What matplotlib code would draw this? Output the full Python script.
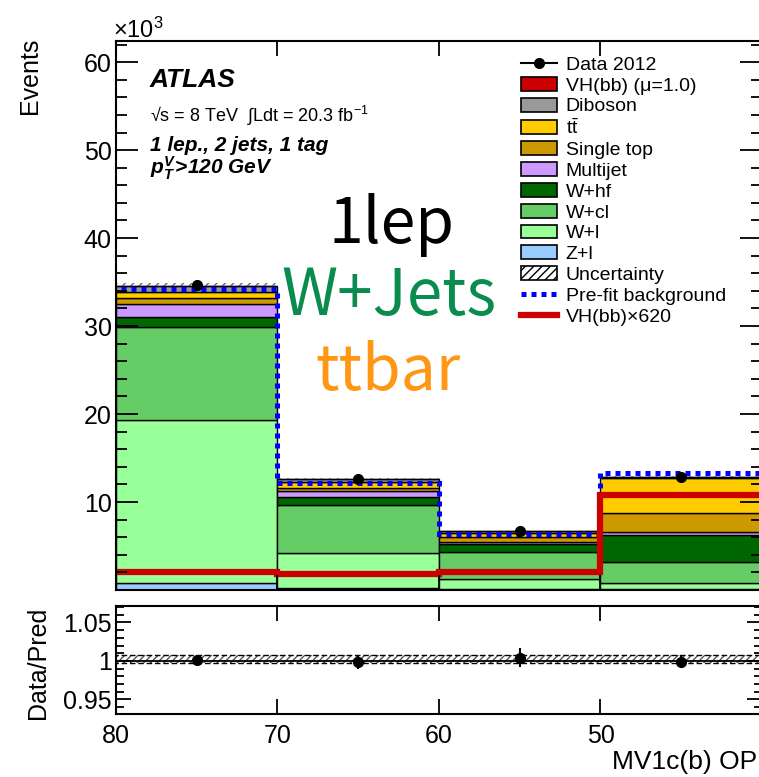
import numpy as np
import matplotlib
matplotlib.use("Agg")
import matplotlib.pyplot as plt
from matplotlib.patches import Patch
from matplotlib.lines import Line2D
from matplotlib.ticker import MultipleLocator, FixedLocator

plt.rcParams["font.family"] = ["Liberation Sans", "DejaVu Sans"]
plt.rcParams["mathtext.fontset"] = "custom"
plt.rcParams["mathtext.rm"] = "Liberation Sans"
plt.rcParams["mathtext.it"] = "Liberation Sans:italic"
plt.rcParams["mathtext.bf"] = "Liberation Sans:italic:bold"
plt.rcParams["hatch.linewidth"] = 1.0

# --- bins: MV1c(b) operating point [%], axis runs 80 -> 40 ---
edges = np.array([80, 70, 60, 50, 40])
centers = (edges[:-1] + edges[1:]) / 2

# --- post-fit yields per bin (events), stacked bottom -> top ---
z_l = [750, 200, 100, 100]
w_l = [18550, 4000, 1150, 650]
w_cl = [10600, 5500, 3050, 2450]
w_hf = [1150, 900, 900, 3100]
multijet = [1500, 600, 300, 300]
single_top = [650, 400, 500, 2150]
ttbar = [700, 700, 500, 3950]
diboson = [700, 350, 200, 150]
vh_x620 = [2050, 1800, 2100, 10750]
vh = [v / 620 for v in vh_x620]

prefit_bkg = [34250, 12150, 6350, 13300]
data_over_pred = [1.001, 0.999, 1.004, 0.999]
unc_lo = [0.9975, 0.9975, 0.9975, 0.9975]
unc_hi = [1.0078, 1.0078, 1.0078, 1.0078]

x_ticks = [80, 70, 60, 50, 40]
x_ticklabels = ["80", "70", "60", "50", ""]

components = [
    ("Z+l", z_l, "#99ccff"),
    ("W+l", w_l, "#99ff99"),
    ("W+cl", w_cl, "#66cc66"),
    ("W+hf", w_hf, "#006600"),
    ("Multijet", multijet, "#cc99ff"),
    ("Single top", single_top, "#cc9900"),
    (r"t$\bar{\mathrm{t}}$", ttbar, "#ffcc00"),
    ("Diboson", diboson, "#999999"),
    ("VH(bb) (μ=1.0)", vh, "#cc0000"),
]

total = np.sum([np.array(c[1], float) for c in components], axis=0)
data = total * np.array(data_over_pred)
ratio_err = np.sqrt(data) / total

K = 1000.0  # y axis in units of 10^3


def rev(vals):
    return np.asarray(vals, float)[::-1]


W, H = 759, 777
fig = plt.figure(figsize=(W / 100, H / 100), dpi=100)


def fx(px):
    return px / W


def fy(py):
    return 1 - py / H


ax = fig.add_axes([fx(116), fy(590), (762 - 116) / W, (590 - 41) / H])
rax = fig.add_axes([fx(116), fy(714), (762 - 116) / W, (714 - 606) / H])

# ---- main panel: stacked backgrounds ----
bottom = np.zeros(4)
for name, vals, col in components:
    v = np.array(vals, float) / K
    ax.bar(centers, v, width=10, bottom=bottom, color=col,
           edgecolor="black", linewidth=1.0)
    bottom = bottom + v

ax.stairs(rev(total * np.array(unc_hi)) / K, edges[::-1],
          baseline=rev(total * np.array(unc_lo)) / K, fill=True,
          facecolor="none", edgecolor="#666666", hatch="////", linewidth=0)
ax.stairs(rev(prefit_bkg) / K, edges[::-1], baseline=None,
          color="#0000ff", linewidth=3.6, linestyle=(0, (1, 1)))
ax.stairs(rev(vh_x620) / K, edges[::-1], baseline=None,
          color="#cc0000", linewidth=4.5)
ax.errorbar(centers, data / K, yerr=np.sqrt(data) / K, fmt="o",
            color="black", markersize=7, elinewidth=1.5)

ax.set_xlim(80, 40)
ax.set_ylim(0, 62.4)
ax.yaxis.set_major_locator(FixedLocator([10, 20, 30, 40, 50, 60]))
ax.yaxis.set_minor_locator(MultipleLocator(2))
ax.xaxis.set_major_locator(FixedLocator(x_ticks))
ax.tick_params(axis="y", which="major", direction="in", length=16, width=1.3,
               right=True, labelsize=18, pad=3)
ax.tick_params(axis="y", which="minor", direction="in", length=8, width=1.3,
               right=True)
ax.tick_params(axis="x", which="major", direction="in", length=11, width=1.3,
               top=True, labelbottom=False)
for s in ax.spines.values():
    s.set_linewidth(1.5)

# ---- ratio panel ----
rax.stairs(rev(unc_hi), edges[::-1], baseline=rev(unc_lo), fill=True,
           facecolor="none", edgecolor="#555555", hatch="/////", linewidth=0)
rax.stairs(rev(unc_hi), edges[::-1], baseline=None, color="black",
           linewidth=1.0, linestyle=(0, (4, 2)))
rax.stairs(rev(unc_lo), edges[::-1], baseline=None, color="black",
           linewidth=1.0, linestyle=(0, (4, 2)))
rax.axhline(1.0, color="black", linewidth=1.3)
rax.errorbar(centers, data_over_pred, yerr=ratio_err, fmt="o",
             color="black", markersize=7, elinewidth=1.5)

rax.set_xlim(80, 40)
rax.set_ylim(0.931, 1.0714)
rax.yaxis.set_major_locator(FixedLocator([0.95, 1.0, 1.05]))
rax.yaxis.set_minor_locator(MultipleLocator(0.01))
rax.set_yticklabels(["0.95", "1", "1.05"])
rax.xaxis.set_major_locator(FixedLocator(x_ticks))
rax.set_xticklabels(x_ticklabels)
rax.tick_params(axis="y", which="major", direction="in", length=11, width=1.3,
                right=True, labelsize=18, pad=3)
rax.tick_params(axis="y", which="minor", direction="in", length=6, width=1.3,
                right=True)
rax.tick_params(axis="x", which="major", direction="in", length=11, width=1.3,
                top=True, labelsize=18, pad=7)
for s in rax.spines.values():
    s.set_linewidth(1.5)

# ---- axis titles ----
fig.text(fx(113), fy(38), r"$\times10^{3}$", fontsize=17, ha="left",
         va="baseline")
fig.text(fx(30), fy(38), "Events", rotation=90, ha="center", va="top",
         fontsize=18)
fig.text(fx(38), fy(663), "Data/Pred", rotation=90, ha="center",
         va="center", fontsize=18)
fig.text(fx(757), fy(762), "MV1c(b) OP", ha="right", va="center",
         fontsize=19)

# ---- ATLAS labels ----
fig.text(fx(150), fy(87), "ATLAS", fontsize=19, fontweight="bold",
         fontstyle="italic", va="baseline")
fig.text(fx(150), fy(122), "√s = 8 TeV  ∫Ldt = 20.3 fb$^{-1}$", fontsize=13,
         va="baseline")
fig.text(fx(150), fy(151), "1 lep., 2 jets, 1 tag", fontsize=15,
         fontweight="bold", fontstyle="italic", va="baseline")
fig.text(fx(150), fy(174), r"$\mathbf{p_{T}^{V}\!>\!120\ GeV}$", fontsize=15,
         va="baseline")

# ---- region labels ----
big = ["Noto Sans CJK JP", "DejaVu Sans"]
fig.text(fx(392), fy(243), "1lep", fontsize=45, family=big, color="black",
         ha="center", va="baseline")
fig.text(fx(389), fy(315), "W+Jets", fontsize=46, family=big, color="#0a8c4e",
         ha="center", va="baseline")
fig.text(fx(388), fy(390), "ttbar", fontsize=45, family=big, color="#ff9614",
         ha="center", va="baseline")

# ---- legend ----
handles = [Line2D([], [], color="black", marker="o", markersize=7, lw=1.5)]
labels = ["Data 2012"]
for name, vals, col in components[::-1]:
    handles.append(Patch(facecolor=col, edgecolor="black", linewidth=1.2))
    labels.append(name)
handles += [
    Patch(facecolor="white", edgecolor="black", hatch="////", linewidth=1.2),
    Line2D([], [], color="#0000ff", lw=3.6, ls=(0, (1, 1))),
    Line2D([], [], color="#cc0000", lw=4.5),
]
labels += ["Uncertainty", "Pre-fit background", "VH(bb)×620"]

ax.legend(handles, labels, loc="upper left",
          bbox_to_anchor=(fx(521), fy(56)), bbox_transform=fig.transFigure,
          frameon=False, fontsize=14, borderpad=0, borderaxespad=0,
          handlelength=1.85, handleheight=0.72, handletextpad=0.45,
          labelspacing=0.16)

fig.savefig("out.png", dpi=100)
